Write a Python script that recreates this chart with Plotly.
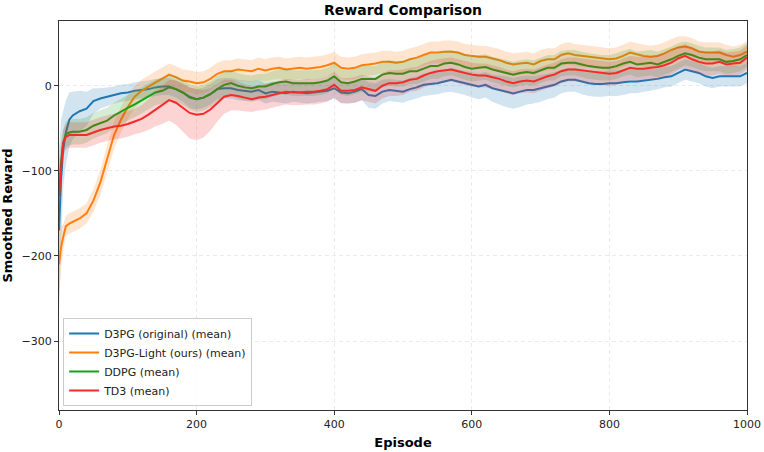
import plotly.graph_objects as go

# Episodes sampled
episodes = [0, 3, 6, 10, 15, 20] + list(range(30, 1001, 10))

d3pg_mean = [-170, -110, -75, -55, -40, -35,
             -30, -27, -18, -15, -13, -11, -9, -8,
             -6, -5, -4, -2, -1, -1, -4, -8, -14, -16,
             -14, -10, -4, -3, -3, -5, -6, -7, -5, -9,
             -7, -8, -9, -7, -8, -9, -8, -7, -6, -3,
             -8, -9, -7, -4, -11, -12, -7, -5, -6, -7,
             -4, -2, 1, 2, 3, 5, 7, 5, 3, 1,
             -1, 1, -3, -5, -7, -9, -7, -5, -5, -3,
             -1, 1, 5, 7, 7, 5, 3, 2, 2, 3,
             3, 4, 5, 5, 6, 7, 8, 10, 11, 15,
             19, 17, 15, 11, 9, 11, 11, 11, 11, 15]
d3pg_band = [95, 70, 45, 38, 32, 28,
             24, 20, 15, 12, 11, 10, 10, 10,
             10, 10, 10, 10, 10, 10, 10, 11, 12, 12,
             12, 12, 12, 12, 12, 12, 12, 12, 12, 12,
             12, 12, 12, 12, 12, 12, 12, 12, 12, 12,
             12, 12, 13, 13, 15, 15, 14, 13, 13, 13,
             13, 13, 13, 13, 13, 13, 14, 14, 14, 15,
             15, 15, 16, 17, 18, 18, 18, 17, 16, 16,
             15, 15, 14, 14, 14, 15, 15, 15, 15, 15,
             15, 15, 14, 14, 13, 13, 12, 12, 12, 12,
             12, 12, 12, 12, 12, 12, 12, 12, 12, 12]

light_mean = [-210, -190, -178, -165, -162, -160,
              -156, -150, -135, -114, -85, -58, -40, -25,
              -13, -6, -1, 4, 9, 13, 10, 6, 5, 3,
              4, 8, 14, 17, 17, 19, 18, 17, 20, 18,
              20, 21, 19, 20, 21, 20, 21, 22, 24, 27,
              21, 20, 21, 24, 25, 26, 28, 28, 27, 28,
              31, 33, 36, 39, 39, 40, 40, 39, 36, 35,
              34, 34, 32, 30, 27, 25, 26, 27, 25, 29,
              31, 31, 36, 38, 36, 35, 34, 33, 32, 31,
              32, 35, 39, 37, 35, 34, 35, 38, 42, 45,
              46, 44, 40, 39, 39, 39, 36, 34, 36, 40]
light_band = [40, 25, 15, 12, 12, 12,
              12, 12, 13, 15, 16, 16, 15, 14,
              13, 13, 13, 13, 13, 13, 13, 13, 13, 13,
              13, 13, 13, 13, 13, 13, 13, 13, 13, 13,
              13, 13, 13, 13, 13, 13, 13, 13, 13, 13,
              13, 13, 13, 13, 13, 13, 13, 13, 13, 13,
              13, 13, 13, 13, 13, 13, 13, 13, 13, 13,
              13, 13, 13, 13, 13, 13, 13, 13, 13, 13,
              13, 13, 13, 13, 13, 13, 13, 13, 13, 13,
              13, 13, 13, 13, 13, 13, 13, 13, 13, 13,
              12, 12, 12, 12, 12, 12, 12, 12, 12, 12]

ddpg_mean = [-130, -90, -68, -57, -55, -54,
             -54, -52, -47, -44, -41, -35, -30, -26,
             -22, -17, -12, -8, -6, -2, -4, -8, -13, -16,
             -14, -10, -4, 1, 3, 0, -2, -3, -1, -1,
             2, 4, 5, 3, 3, 3, 3, 4, 6, 11,
             4, 3, 5, 8, 8, 8, 13, 15, 14, 14,
             17, 17, 20, 23, 23, 26, 27, 25, 22, 20,
             21, 22, 19, 17, 15, 13, 15, 16, 15, 18,
             21, 21, 26, 27, 27, 25, 23, 22, 21, 21,
             23, 26, 28, 25, 26, 27, 25, 28, 31, 35,
             38, 36, 33, 31, 31, 31, 28, 29, 31, 36]
ddpg_band = [40, 25, 16, 15, 15, 15,
             15, 15, 15, 15, 15, 15, 15, 15,
             15, 15, 15, 15, 15, 15, 15, 15, 15, 15,
             15, 15, 15, 15, 15, 15, 15, 15, 15, 15,
             15, 15, 15, 15, 15, 15, 15, 15, 15, 15,
             15, 15, 15, 15, 15, 15, 15, 15, 15, 15,
             15, 15, 15, 15, 15, 15, 15, 15, 15, 15,
             15, 15, 15, 15, 15, 15, 15, 15, 15, 15,
             15, 15, 15, 15, 15, 15, 15, 15, 15, 15,
             15, 15, 15, 15, 15, 15, 15, 15, 15, 15,
             14, 14, 14, 14, 14, 14, 14, 14, 14, 14]

td3_mean = [-130, -100, -67, -60, -58, -58,
            -58, -58, -55, -52, -50, -48, -47, -45,
            -42, -39, -34, -28, -23, -17, -20, -26, -32, -34,
            -33, -28, -20, -13, -11, -12, -14, -16, -14, -13,
            -11, -9, -7, -8, -8, -7, -7, -6, -4, 1,
            -6, -6, -5, -2, -4, -6, 0, 3, 3, 4,
            7, 8, 12, 15, 17, 18, 19, 17, 15, 13,
            12, 12, 10, 8, 5, 3, 5, 6, 5, 8,
            11, 13, 17, 19, 19, 18, 17, 16, 15, 14,
            15, 18, 21, 20, 20, 21, 22, 24, 27, 32,
            35, 31, 28, 26, 26, 28, 25, 26, 27, 33]
td3_band = [30, 22, 15, 15, 15, 15,
            15, 15, 15, 15, 15, 15, 15, 15,
            15, 16, 18, 20, 22, 24, 26, 28, 30, 30,
            28, 25, 22, 20, 18, 17, 16, 15, 15, 15,
            15, 15, 15, 15, 15, 15, 15, 15, 15, 15,
            15, 15, 15, 15, 15, 15, 15, 15, 15, 15,
            14, 14, 14, 14, 14, 14, 14, 14, 14, 14,
            14, 14, 14, 14, 14, 14, 14, 14, 14, 14,
            14, 14, 14, 14, 14, 14, 14, 14, 14, 14,
            14, 14, 14, 14, 14, 14, 14, 14, 14, 14,
            14, 14, 14, 14, 14, 14, 14, 14, 14, 14]

series = [
    ("D3PG (original) (mean)", d3pg_mean, d3pg_band, "#1f77b4", "rgba(31,119,180,0.2)"),
    ("D3PG-Light (ours) (mean)", light_mean, light_band, "#ff7f0e", "rgba(255,127,14,0.2)"),
    ("DDPG (mean)", ddpg_mean, ddpg_band, "#18a018", "rgba(44,160,44,0.2)"),
    ("TD3 (mean)", td3_mean, td3_band, "#f52a2a", "rgba(245,42,42,0.2)"),
]

for s in series:
    assert len(s[1]) == len(episodes) and len(s[2]) == len(episodes), s[0]

fig = go.Figure()
for name, mean, band, color, fillc in series:
    upper = [m + b for m, b in zip(mean, band)]
    lower = [m - b for m, b in zip(mean, band)]
    fig.add_trace(go.Scatter(x=episodes, y=upper, mode="lines", line=dict(width=0, color=fillc),
                             showlegend=False, hoverinfo="skip"))
    fig.add_trace(go.Scatter(x=episodes, y=lower, mode="lines", line=dict(width=0, color=fillc),
                             fill="tonexty", fillcolor=fillc, showlegend=False, hoverinfo="skip"))
    fig.add_trace(go.Scatter(x=episodes, y=mean, mode="lines", name=name,
                             line=dict(color=color, width=2)))

axis_common = dict(
    showline=True, linecolor="#333333", linewidth=1, mirror=True,
    ticks="outside", ticklen=4, tickcolor="#333333",
    showgrid=True, gridcolor="#ebebeb", griddash="4px,3px", gridwidth=1,
    zeroline=False, automargin=False,
    tickfont=dict(family="DejaVu Sans", size=11, color="#222"),
)

fig.update_layout(
    width=764, height=452,
    margin=dict(l=59, r=17, t=21, b=42),
    paper_bgcolor="white", plot_bgcolor="white",
    font=dict(family="DejaVu Sans", color="#000"),
    title=dict(text="<b>Reward Comparison</b>", x=0.5, xref="paper", xanchor="center",
               y=0.977, yanchor="middle",
               font=dict(family="DejaVu Sans", size=14, color="#000")),
    xaxis=dict(range=[0, 1000], tickvals=[0, 200, 400, 600, 800, 1000],
               title=dict(text="<b>Episode</b>", font=dict(size=13, family="DejaVu Sans"), standoff=7),
               **axis_common),
    yaxis=dict(range=[-381, 76], tickvals=[-300, -200, -100, 0],
               title=dict(text="<b>Smoothed Reward</b>", font=dict(size=13, family="DejaVu Sans"), standoff=9),
               **axis_common),
    legend=dict(x=0.006, y=0.01, xanchor="left", yanchor="bottom", traceorder="normal",
                bgcolor="rgba(255,255,255,0.85)", bordercolor="#cccccc", borderwidth=1,
                font=dict(family="DejaVu Sans", size=11, color="#222"),
                itemwidth=30, tracegroupgap=0),
)

fig.write_html("out.html")
